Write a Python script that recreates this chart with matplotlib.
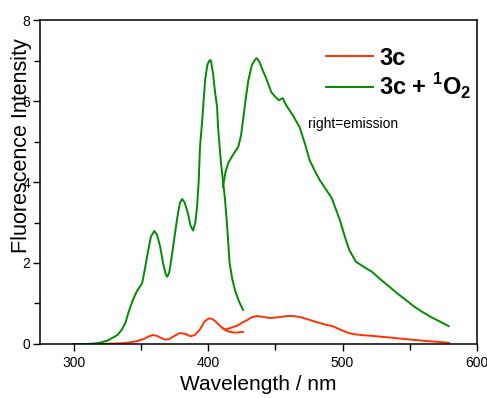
import matplotlib.pyplot as plt
import numpy as np

plt.rcParams['font.family'] = ['Liberation Sans', 'DejaVu Sans']
plt.rcParams['mathtext.fontset'] = 'custom'
plt.rcParams['mathtext.rm'] = 'Liberation Sans'
plt.rcParams['mathtext.bf'] = 'Liberation Sans:bold'

# 3c, excitation (left) and emission (right)
red_exc_x = [310, 320, 330, 337, 344, 348, 352, 356, 359, 362, 365, 368, 371, 375, 379, 383,
             387, 390, 394, 397.5, 400.5, 403, 405.5, 408.5, 411, 413.5, 416, 420, 426]
red_exc_y = [0.0, 0.0, 0.01, 0.02, 0.05, 0.08, 0.12, 0.19, 0.22, 0.2, 0.15, 0.11, 0.12, 0.2, 0.27, 0.25,
             0.19, 0.22, 0.36, 0.56, 0.63, 0.62, 0.56, 0.46, 0.39, 0.33, 0.3, 0.28, 0.3]
red_em_x = [411, 413, 417, 421.5, 425, 429, 432.5, 436, 441, 446, 452, 458.5, 463, 468, 474, 480.7,
            487, 492.6, 498, 503, 507, 514, 522, 535, 547, 560, 579]
red_em_y = [0.38, 0.36, 0.4, 0.45, 0.52, 0.59, 0.66, 0.69, 0.67, 0.64, 0.66, 0.69, 0.69, 0.67, 0.61, 0.54,
            0.48, 0.44, 0.36, 0.29, 0.25, 0.22, 0.2, 0.16, 0.12, 0.08, 0.03]

# 3c + 1O2
green_exc_x = [300, 310, 318, 325, 332.6, 336, 338.5, 341, 344, 347, 351, 353, 355.5, 357.5, 360, 362,
               364.4, 366.5, 368.5, 369.6, 371, 372.5, 374, 377, 379, 380.7, 382.5, 385, 387, 388.9,
               390.5, 391.8, 393, 394, 395.5, 397.8, 399.5, 401, 402, 403.7, 405, 406.7, 407.4, 409.6,
               411, 412.5, 414, 416, 418, 420, 423, 426]
green_exc_y = [0.0, 0.0, 0.02, 0.08, 0.22, 0.36, 0.52, 0.8, 1.08, 1.3, 1.5, 1.85, 2.32, 2.65, 2.79, 2.7,
               2.4, 2.0, 1.72, 1.66, 1.75, 2.05, 2.4, 3.1, 3.48, 3.58, 3.5, 3.23, 2.92, 2.8,
               3.0, 3.38, 4.0, 4.87, 5.46, 6.52, 6.9, 7.0, 7.01, 6.69, 6.27, 5.85, 5.36, 4.47,
               4.05, 3.6, 3.0, 2.0, 1.6, 1.33, 1.05, 0.84]
green_em_x = [411, 413, 415, 418.5, 422.5, 424.5, 426, 428, 430, 432.6, 434.5, 436, 438, 440, 443.7,
              447, 450, 452.6, 455.5, 458, 463, 468, 472, 475.5, 479, 483, 487, 492, 498, 502, 505,
              510, 516, 522, 528, 535, 541, 547, 553, 559, 565, 572, 579]
green_em_y = [3.88, 4.25, 4.47, 4.67, 4.87, 5.15, 5.53, 6.05, 6.52, 6.89, 7.0, 7.06, 6.98, 6.81, 6.52,
              6.22, 6.1, 6.02, 6.07, 5.9, 5.65, 5.36, 4.95, 4.54, 4.3, 4.05, 3.85, 3.6, 3.06, 2.62, 2.32,
              2.03, 1.9, 1.78, 1.6, 1.41, 1.24, 1.09, 0.93, 0.8, 0.68, 0.56, 0.44]

red = '#ff3300'
green = '#008c00'

fig = plt.figure(figsize=(4.87, 3.98), dpi=100)
ax = fig.add_axes([0.0821, 0.1357, 0.8974, 0.814])

ax.plot(red_exc_x, red_exc_y, color=red, lw=1.4, label='3c')
ax.plot(red_em_x, red_em_y, color=red, lw=1.4)
ax.plot(green_exc_x, green_exc_y, color=green, lw=1.4, label=r'3c + $^\mathbf{1}\mathbf{O}_\mathbf{2}$')
ax.plot(green_em_x, green_em_y, color=green, lw=1.4)

ax.set_xlim(275, 600)
ax.set_ylim(0, 8)
ax.set_xticks([300, 400, 500, 600])
ax.set_xticks([350, 450, 550], minor=True)
ax.set_yticks([0, 2, 4, 6, 8])
ax.set_yticks([1, 3, 5, 7], minor=True)
ax.tick_params(which='both', direction='out', labelsize=10, width=1)
ax.tick_params(which='major', length=5)
ax.tick_params(which='minor', length=4)
ax.tick_params(axis='y', pad=2)
for s in ax.spines.values():
    s.set_linewidth(1.1)

ax.set_xlabel('Wavelength / nm', fontsize=15)
ax.set_ylabel('Fluorescence Intensity', fontsize=15.5)
ax.xaxis.set_label_coords(0.5, -0.097)
ax.yaxis.set_label_coords(-0.018, 0.611)

ax.text(474, 5.33, 'right=emission', fontsize=10)

ax.legend(loc='upper left', bbox_to_anchor=(0.654, 0.918), frameon=False,
          prop={'weight': 'bold', 'size': 17}, handlelength=2.0,
          handletextpad=0.25, labelspacing=0.1, borderpad=0, borderaxespad=0)

fig.savefig('out.png', dpi=100)
